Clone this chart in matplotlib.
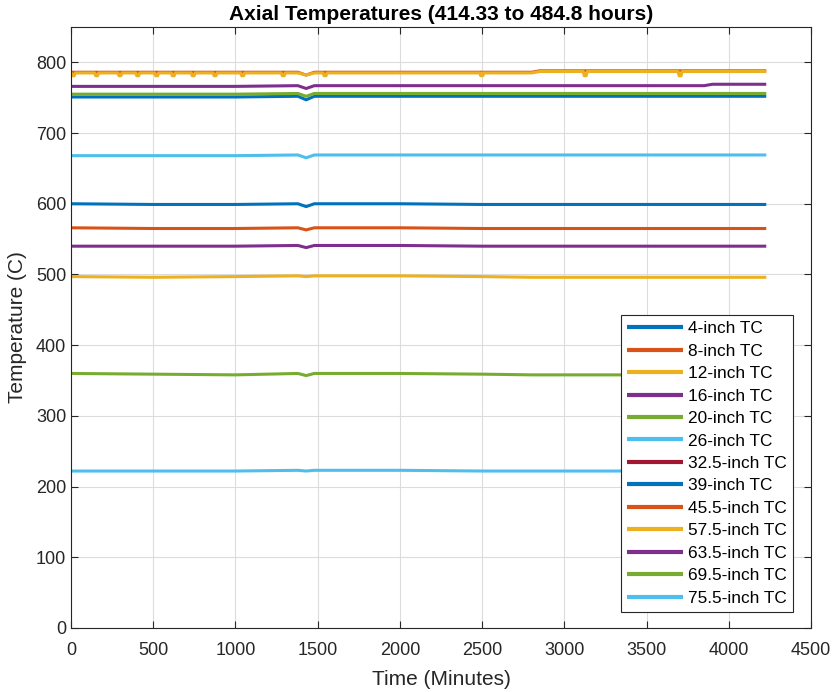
import numpy as np
import matplotlib
matplotlib.use("Agg")
import matplotlib.pyplot as plt

plt.rcParams['font.family'] = ['Liberation Sans', 'DejaVu Sans']

labels = ["4-inch TC", "8-inch TC", "12-inch TC", "16-inch TC", "20-inch TC",
          "26-inch TC", "32.5-inch TC", "39-inch TC", "45.5-inch TC",
          "57.5-inch TC", "63.5-inch TC", "69.5-inch TC", "75.5-inch TC"]
colors = ["#0072BD", "#D95319", "#EDB120", "#7E2F8E", "#77AC30", "#4DBEEE",
          "#A2142F", "#0072BD", "#D95319", "#EDB120", "#7E2F8E", "#77AC30", "#4DBEEE"]

# time points (minutes)
t = [0, 500, 1000, 1380, 1430, 1480, 2000, 2500, 2800, 2850, 3500, 3850, 3900, 4228]

tc_4 = [600, 599, 599, 600, 596, 600, 600, 599, 599, 599, 599, 599, 599, 599]
tc_8 = [566, 565, 565, 566, 563, 566, 566, 565, 565, 565, 565, 565, 565, 565]
tc_12 = [497, 496, 497, 498, 497, 498, 498, 497, 496, 496, 496, 496, 496, 496]
tc_16 = [540, 540, 540, 541, 538, 541, 541, 540, 540, 540, 540, 540, 540, 540]
tc_20 = [360, 359, 358, 360, 357, 360, 360, 359, 358, 358, 358, 358, 358, 358]
tc_26 = [222, 222, 222, 223, 222, 223, 223, 222, 222, 222, 222, 222, 222, 222]
tc_32_5 = [np.nan] * 14
tc_39 = [751, 751, 751, 752, 747, 752, 752, 752, 752, 752, 752, 752, 752, 752]
tc_45_5 = [786, 786, 786, 786, 782, 786, 786, 786, 786, 788, 788, 788, 788, 788]
tc_57_5 = [785, 785, 785, 785, 782, 785, 785, 785, 785, 787, 787, 787, 787, 787]
tc_63_5 = [766, 766, 766, 767, 763, 767, 767, 767, 767, 767, 767, 767, 769, 769]
tc_69_5 = [755, 755, 755, 756, 752, 756, 756, 756, 756, 756, 756, 756, 756, 756]
tc_75_5 = [668, 668, 668, 669, 665, 669, 669, 669, 669, 669, 669, 669, 669, 669]

# brief dips seen on the 57.5-inch trace
dip_times = [14, 156, 298, 406, 521, 622, 743, 876, 1044, 1291, 1545, 2498, 3127, 3704]
dip_values = [781] * len(dip_times)

series = [tc_4, tc_8, tc_12, tc_16, tc_20, tc_26, tc_32_5, tc_39,
          tc_45_5, tc_57_5, tc_63_5, tc_69_5, tc_75_5]

fig = plt.figure(figsize=(8.33, 6.92), dpi=100)
ax = fig.add_axes([0.0852, 0.0925, 0.8884, 0.8685])

for i, (y, c, lab) in enumerate(zip(series, colors, labels)):
    tt = list(t)
    yy = list(y)
    if lab == "57.5-inch TC":
        tt_arr = np.array(t, dtype=float)
        yy_arr = np.array(y, dtype=float)
        pts = list(zip(tt_arr, yy_arr))
        for dt, dv in zip(dip_times, dip_values):
            base = np.interp(dt, tt_arr, yy_arr)
            pts += [(dt - 12, base), (dt - 6, dv), (dt + 6, dv), (dt + 12, base)]
        pts.sort()
        tt = [p[0] for p in pts]
        yy = [p[1] for p in pts]
    ax.plot(tt, yy, color=c, lw=2.2, label=lab, solid_capstyle='butt')

ax.set_xlim(0, 4500)
ax.set_ylim(0, 850)
ax.set_xticks(np.arange(0, 4501, 500))
ax.set_yticks(np.arange(0, 801, 100))
ax.grid(True, color='#dcdcdc', lw=0.8)
ax.set_axisbelow(True)
ax.tick_params(direction='in', length=5, labelsize=13, colors='#262626',
               top=True, right=True)
ax.tick_params(axis='x', pad=10)
for s in ax.spines.values():
    s.set_color('#262626')
    s.set_linewidth(0.8)
ax.set_xlabel("Time (Minutes)", fontsize=15, color='#262626', labelpad=8)
ax.set_ylabel("Temperature (C)", fontsize=15, color='#262626', labelpad=6)
ax.set_title("Axial Temperatures (414.33 to 484.8 hours)", fontsize=15,
             fontweight='bold', pad=5)

leg = ax.legend(loc='lower right', bbox_to_anchor=(0.975, 0.027), fontsize=12.4,
                handlelength=3.25, labelspacing=0.43, borderpad=0.35,
                handletextpad=0.3, fancybox=False, framealpha=1,
                edgecolor='#262626', borderaxespad=0)
for h in leg.get_lines():
    h.set_linewidth(3)
leg.get_frame().set_linewidth(0.8)

fig.savefig("out.png", dpi=100)
